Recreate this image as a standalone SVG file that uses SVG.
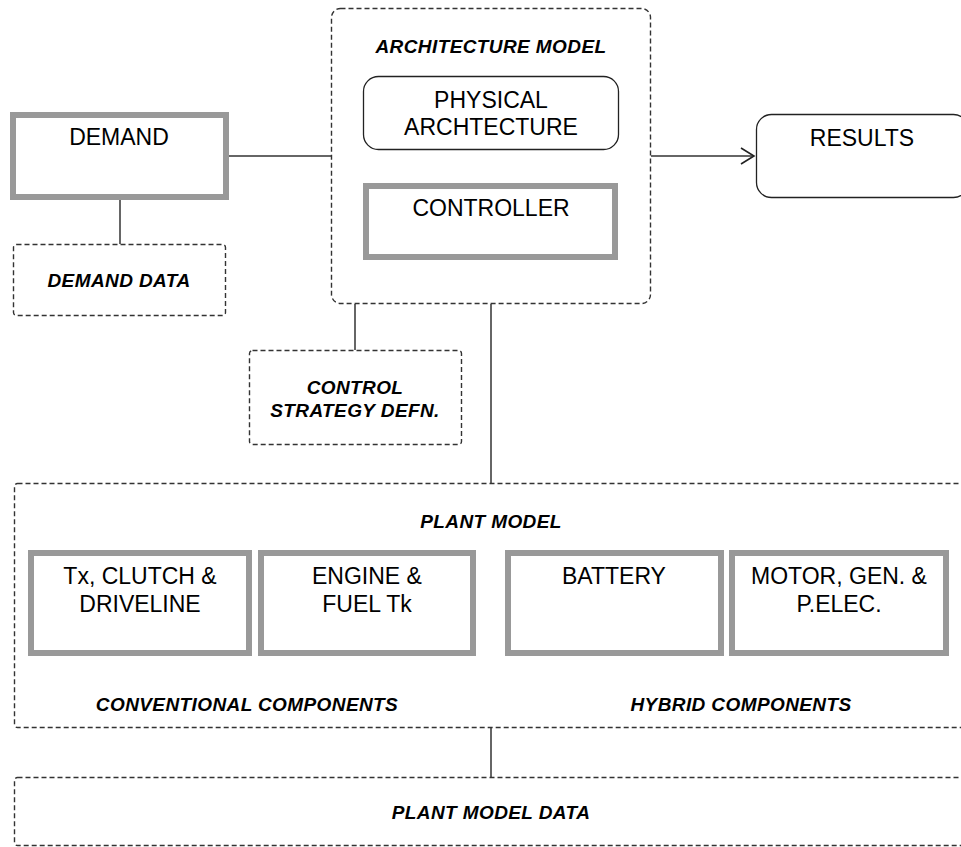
<svg xmlns="http://www.w3.org/2000/svg" width="961" height="847" viewBox="0 0 961 847">
<style>
.bg{fill:#fff}
.thick{fill:#fff;stroke:#999;stroke-width:6}
.dash{fill:#fff;stroke:#333;stroke-width:1.4;stroke-dasharray:5 3}
.round{fill:#fff;stroke:#222;stroke-width:1.3}
.conn{fill:none;stroke:#333;stroke-width:1.5}
.t{font-family:"Liberation Sans",Arial,sans-serif;font-size:23px;fill:#000;text-anchor:middle}
.b{font-family:"Liberation Sans",Arial,sans-serif;font-size:19px;font-weight:bold;font-style:italic;fill:#000;text-anchor:middle;letter-spacing:0.4px}
</style>
<defs>
<marker id="arr" markerWidth="16" markerHeight="18" refX="14" refY="9" orient="auto" markerUnits="userSpaceOnUse">
<path d="M1,1 L14,9 L1,17" fill="none" stroke="#222" stroke-width="1.6"/>
</marker>
</defs>
<rect class="bg" x="0" y="0" width="961" height="847"/>

<g id="connectors">
<line class="conn" x1="229" y1="156" x2="331" y2="156"/>
<line class="conn" x1="120" y1="200" x2="120" y2="244"/>
<line class="conn" x1="651" y1="156" x2="754" y2="156" marker-end="url(#arr)"/>
<line class="conn" x1="355" y1="304" x2="355" y2="350"/>
<line class="conn" x1="491" y1="304" x2="491" y2="483"/>
<line class="conn" x1="491" y1="728" x2="491" y2="777"/>
</g>

<g id="demand">
<rect class="thick" x="13" y="115" width="213" height="82"/>
<text class="t" x="119" y="145">DEMAND</text>
</g>

<g id="demand-data">
<rect class="dash" x="13.5" y="244.5" width="212" height="71" rx="3"/>
<text class="b" x="119" y="287">DEMAND DATA</text>
</g>

<g id="architecture-model">
<rect class="dash" x="331.5" y="8.5" width="319" height="295" rx="9"/>
<text class="b" x="491" y="53">ARCHITECTURE MODEL</text>
</g>

<g id="physical-architecture">
<rect class="round" x="363.5" y="76.5" width="255" height="73" rx="15"/>
<text class="t" x="491" y="108">PHYSICAL</text>
<text class="t" x="491" y="135">ARCHTECTURE</text>
</g>

<g id="controller">
<rect class="thick" x="366" y="186" width="249" height="71"/>
<text class="t" x="491" y="216">CONTROLLER</text>
</g>

<g id="results">
<rect class="round" x="756.5" y="114.5" width="212" height="83" rx="15"/>
<text class="t" x="862" y="146">RESULTS</text>
</g>

<g id="control-strategy">
<rect class="dash" x="249.5" y="350.5" width="212" height="94" rx="3"/>
<text class="b" x="355" y="394">CONTROL</text>
<text class="b" x="355" y="417">STRATEGY DEFN.</text>
</g>

<g id="plant-model">
<rect class="dash" x="14.5" y="483.5" width="960" height="244" rx="3"/>
<text class="b" x="491" y="528">PLANT MODEL</text>
<text class="b" x="247" y="711">CONVENTIONAL COMPONENTS</text>
<text class="b" x="741" y="711">HYBRID COMPONENTS</text>
</g>

<g id="tx-clutch">
<rect class="thick" x="31" y="553" width="218" height="100"/>
<text class="t" x="140" y="584">Tx, CLUTCH &amp;</text>
<text class="t" x="140" y="612">DRIVELINE</text>
</g>

<g id="engine">
<rect class="thick" x="261" y="553" width="212" height="100"/>
<text class="t" x="367" y="584">ENGINE &amp;</text>
<text class="t" x="367" y="612">FUEL Tk</text>
</g>

<g id="battery">
<rect class="thick" x="508" y="553" width="213" height="100"/>
<text class="t" x="614" y="584">BATTERY</text>
</g>

<g id="motor">
<rect class="thick" x="732" y="553" width="214" height="100"/>
<text class="t" x="839" y="584">MOTOR, GEN. &amp;</text>
<text class="t" x="839" y="612">P.ELEC.</text>
</g>

<g id="plant-model-data">
<rect class="dash" x="14.5" y="777.5" width="960" height="68" rx="3"/>
<text class="b" x="491" y="819">PLANT MODEL DATA</text>
</g>
</svg>
